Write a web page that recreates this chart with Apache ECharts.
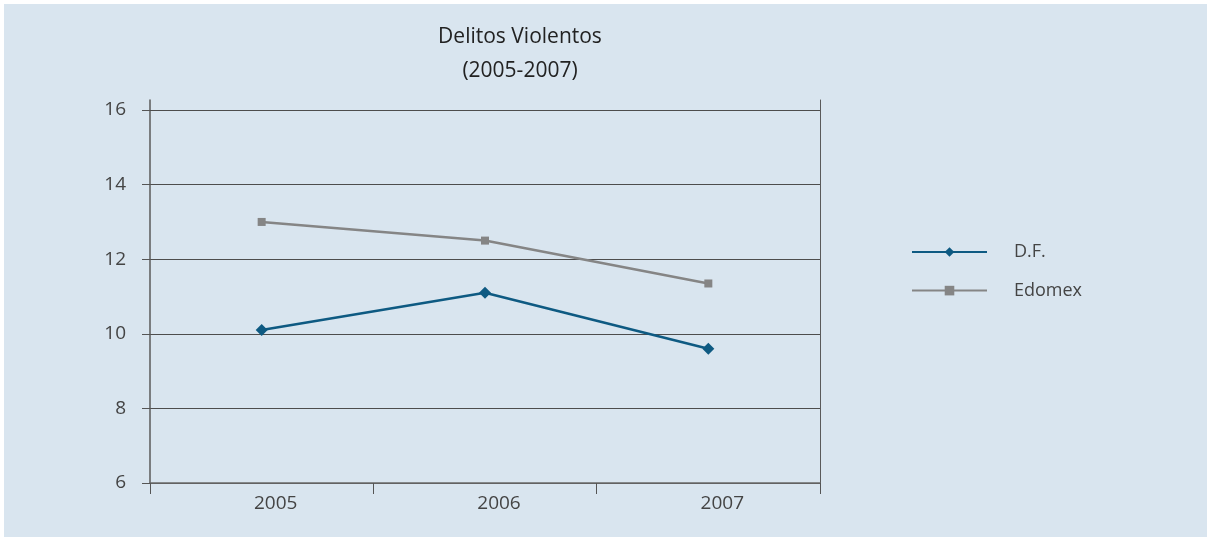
<!DOCTYPE html>
<html>
<head>
<meta charset="utf-8">
<script src="https://cdn.jsdelivr.net/npm/echarts@6/dist/echarts.min.js"></script>
<style>
  html, body { margin: 0; padding: 0; background: #ffffff; }
  #panel { position: absolute; left: 4px; top: 4px; width: 1203px; height: 533px; background: #d9e5ef; }
  #chart { position: absolute; left: 0; top: 0; width: 1210px; height: 537px; }
</style>
</head>
<body>
<div id="panel"></div>
<div id="chart"></div>
<script>
// Violent crime index, Mexico City (D.F.) vs. State of Mexico (Edomex)
const years = ['2005', '2006', '2007'];
const dfValues = [10.1, 11.1, 9.6];
const edomexValues = [13.0, 12.5, 11.35];
const yTicks = [6, 8, 10, 12, 14, 16];

const FONT = '"Open Sans", "Liberation Sans", sans-serif';
const yMin = 6;
const yTop = 16;
const yMax = 16.27; // axis lines run a little past the top gridline
const GRID_COLOR = '#4d4d4d';

const chart = echarts.init(document.getElementById('chart'), null, { renderer: 'canvas' });

chart.setOption({
  backgroundColor: 'transparent',
  animation: false,
  title: {
    text: 'Delitos Violentos\n(2005-2007)',
    left: 515,
    top: 15,
    textAlign: 'center',
    textStyle: {
      fontFamily: FONT,
      fontSize: 21,
      fontWeight: 'normal',
      color: '#222222',
      lineHeight: 34
    }
  },
  legend: {
    orient: 'vertical',
    left: 906,
    top: 237,
    itemWidth: 75,
    itemHeight: 12,
    itemGap: 18.6,
    textStyle: {
      fontFamily: FONT,
      fontSize: 18,
      color: '#444444',
      lineHeight: 20,
      padding: [0, 0, 0, 22]
    },
    data: ['D.F.', 'Edomex']
  },
  grid: {
    left: 150,
    right: 390,
    top: 100,
    bottom: 54
  },
  xAxis: {
    type: 'category',
    data: years,
    boundaryGap: true,
    axisLine: { show: true, lineStyle: { color: '#6a6a6a', width: 1.5 } },
    axisTick: { show: true, length: 11, lineStyle: { color: '#555555', width: 1 } },
    axisLabel: {
      margin: 11,
      padding: [0, 0, 0, 28],
      fontFamily: FONT,
      fontSize: 19,
      color: '#444444'
    },
    splitLine: { show: false }
  },
  yAxis: [
    {
      type: 'value',
      min: yMin,
      max: yMax,
      interval: 2,
      axisLine: { show: true, lineStyle: { color: '#5a5a5a', width: 1.5 } },
      axisTick: { show: true, length: 8, customValues: yTicks, lineStyle: { color: '#555555' } },
      axisLabel: {
        margin: 24,
        customValues: yTicks,
        fontFamily: FONT,
        fontSize: 19,
        color: '#444444'
      },
      splitLine: {
        show: true,
        showMaxLine: false,
        lineStyle: { color: GRID_COLOR, width: 1 }
      }
    },
    {
      type: 'value',
      position: 'right',
      min: yMin,
      max: yMax,
      interval: 2,
      axisLine: { show: true, lineStyle: { color: '#5a5a5a', width: 1 } },
      axisTick: { show: false },
      axisLabel: { show: false },
      splitLine: { show: false }
    }
  ],
  series: [
    {
      name: 'D.F.',
      type: 'line',
      data: dfValues,
      symbol: 'diamond',
      symbolSize: 12,
      showAllSymbol: true,
      z: 3,
      lineStyle: { color: '#0e5a82', width: 2.5 },
      itemStyle: { color: '#0e5a82' },
      // top gridline at 16
      markLine: {
        silent: true,
        symbol: ['none', 'none'],
        label: { show: false },
        lineStyle: { color: GRID_COLOR, width: 1, type: 'solid' },
        z: 1,
        data: [{ yAxis: yTop }]
      }
    },
    {
      name: 'Edomex',
      type: 'line',
      data: edomexValues,
      symbol: 'rect',
      symbolSize: 8,
      showAllSymbol: true,
      z: 3,
      lineStyle: { color: '#858585', width: 2.5 },
      itemStyle: { color: '#858585' }
    }
  ]
});
</script>
</body>
</html>
